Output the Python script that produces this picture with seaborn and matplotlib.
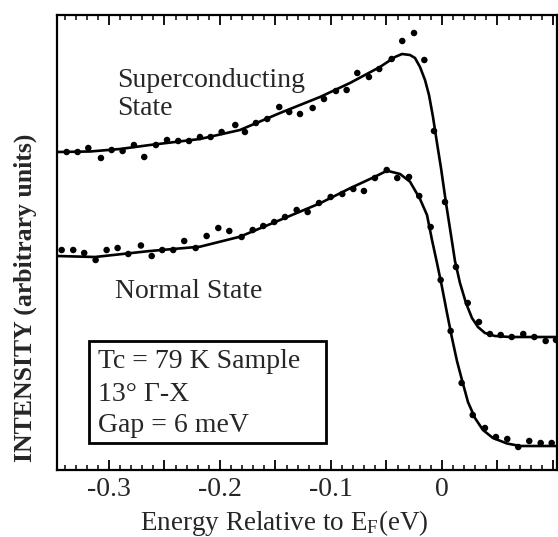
import numpy as np
import pandas as pd
import matplotlib
matplotlib.use("Agg")
import matplotlib.pyplot as plt
from matplotlib.ticker import MultipleLocator, FuncFormatter
from matplotlib.patches import Rectangle
import seaborn as sns

# ---------------- data ----------------
sc_energy = [-0.3381, -0.3282, -0.3186, -0.3072, -0.2976, -0.2877, -0.2775, -0.2682,
             -0.2577, -0.2477, -0.2376, -0.2279, -0.2180, -0.2084, -0.1985, -0.1862,
             -0.1775, -0.1676, -0.1574, -0.1466, -0.1376, -0.1279, -0.1165, -0.1063,
             -0.0955, -0.0859, -0.0763, -0.0658, -0.0565, -0.0453, -0.0358, -0.0252,
             -0.0159, -0.0072, 0.0027, 0.0126, 0.0232, 0.0333, 0.0432, 0.0529,
             0.0628, 0.0732, 0.0832, 0.0934, 0.1027]
sc_intensity = [3.18, 3.18, 3.22, 3.12, 3.20, 3.19, 3.25, 3.13, 3.25, 3.30,
                3.29, 3.29, 3.33, 3.33, 3.38, 3.45, 3.38, 3.47, 3.51, 3.63,
                3.58, 3.56, 3.62, 3.71, 3.79, 3.80, 3.97, 3.93, 4.01, 4.11,
                4.29, 4.37, 4.10, 3.39, 2.68, 2.03, 1.67, 1.48, 1.36, 1.35,
                1.33, 1.36, 1.33, 1.29, 1.30]

sc_fit_energy = [-0.3468, -0.3171, -0.2901, -0.2631, -0.2180, -0.1820, -0.1459, -0.1099,
                 -0.0829, -0.0559, -0.0423, -0.0360, -0.0288, -0.0243, -0.0198, -0.0153,
                 -0.0117, -0.0081, -0.0045, -0.0009, 0.0036, 0.0081, 0.0117, 0.0162,
                 0.0216, 0.0270, 0.0324, 0.0387, 0.0477, 0.0613, 0.1036]
sc_fit_intensity = [3.18, 3.185, 3.21, 3.25, 3.31, 3.40, 3.57, 3.73,
                    3.87, 4.03, 4.13, 4.16, 4.15, 4.12, 4.03, 3.90,
                    3.75, 3.53, 3.27, 3.02, 2.67, 2.35, 2.09, 1.87,
                    1.67, 1.52, 1.43, 1.37, 1.34, 1.33, 1.33]

ns_energy = [-0.3426, -0.3322, -0.3223, -0.3120, -0.3021, -0.2922, -0.2826, -0.2712,
             -0.2615, -0.2520, -0.2421, -0.2322, -0.2219, -0.2120, -0.2015, -0.1916,
             -0.1805, -0.1705, -0.1610, -0.1511, -0.1414, -0.1309, -0.1210, -0.1108,
             -0.1003, -0.0898, -0.0799, -0.0703, -0.0604, -0.0498, -0.0403, -0.0297,
             -0.0205, -0.0102, -0.0012, 0.0078, 0.0177, 0.0277, 0.0387, 0.0486,
             0.0588, 0.0687, 0.0786, 0.0889, 0.0988]
ns_intensity = [2.20, 2.20, 2.17, 2.10, 2.20, 2.22, 2.16, 2.245, 2.14, 2.20,
                2.20, 2.29, 2.22, 2.34, 2.42, 2.39, 2.33, 2.40, 2.44, 2.48,
                2.53, 2.60, 2.58, 2.67, 2.73, 2.76, 2.81, 2.79, 2.92, 3.00,
                2.92, 2.93, 2.74, 2.43, 1.90, 1.39, 0.87, 0.55, 0.42, 0.33,
                0.31, 0.23, 0.29, 0.27, 0.27]

ns_fit_energy = [-0.3468, -0.3126, -0.2631, -0.2180, -0.1820, -0.1459, -0.1099, -0.0829,
                 -0.0604, -0.0495, -0.0378, -0.0288, -0.0198, -0.0135, -0.0090, -0.0045,
                 0.0000, 0.0045, 0.0090, 0.0135, 0.0180, 0.0234, 0.0297, 0.0369,
                 0.0459, 0.0586, 0.0703, 0.1036]
ns_fit_intensity = [2.14, 2.13, 2.19, 2.233, 2.333, 2.50, 2.667, 2.817,
                    2.933, 2.993, 2.96, 2.883, 2.71, 2.55, 2.30, 2.07,
                    1.83, 1.57, 1.32, 1.09, 0.90, 0.68, 0.52, 0.40,
                    0.32, 0.265, 0.24, 0.24]

tick_labels = {-0.3: "-0.3", -0.2: "-0.2", -0.1: "-0.1", 0.0: "0"}

# ---------------- style ----------------
sns.set_style("ticks")
plt.rcParams["font.family"] = ["Liberation Serif", "DejaVu Serif"]
plt.rcParams["mathtext.fontset"] = "custom"
plt.rcParams["mathtext.rm"] = "Liberation Serif"
plt.rcParams["mathtext.it"] = "Liberation Serif:italic"

FS = 20

fig = plt.figure(figsize=(5.58, 5.37), dpi=100)
ax = fig.add_axes([57 / 558, 1 - 470 / 537, 500 / 558, 455 / 537])

pts_sc = pd.DataFrame({"E": sc_energy, "I": sc_intensity})
pts_ns = pd.DataFrame({"E": ns_energy, "I": ns_intensity})
fit_sc = pd.DataFrame({"E": sc_fit_energy, "I": sc_fit_intensity})
fit_ns = pd.DataFrame({"E": ns_fit_energy, "I": ns_fit_intensity})

for fit in (fit_sc, fit_ns):
    sns.lineplot(data=fit, x="E", y="I", ax=ax, color="black", lw=1.9,
                 sort=False, estimator=None, solid_joinstyle="round")
for pts in (pts_sc, pts_ns):
    sns.scatterplot(data=pts, x="E", y="I", ax=ax, color="black", s=22,
                    edgecolor="none", zorder=3)

ax.set_xlim(-0.3468, 0.1036)
ax.set_ylim(0, 4.55)

# axes / ticks
for side in ("left", "right", "top", "bottom"):
    ax.spines[side].set_visible(True)
    ax.spines[side].set_linewidth(1.6)
    ax.spines[side].set_color("black")
ax.set_yticks([])
ax.xaxis.set_major_locator(MultipleLocator(0.05))
ax.xaxis.set_minor_locator(MultipleLocator(0.01))


def fmt(v, pos):
    for k, lab in tick_labels.items():
        if abs(v - k) < 1e-6:
            return lab
    return ""


ax.xaxis.set_major_formatter(FuncFormatter(fmt))
ax.tick_params(axis="x", which="both", direction="in", top=True, bottom=True,
               color="black", labelsize=FS, pad=5)
ax.tick_params(axis="x", which="major", length=7.5, width=1.3)
ax.tick_params(axis="x", which="minor", length=3.8, width=1.1)

ax.set_xlabel(r"Energy Relative to E$_\mathrm{F}$(eV)", fontsize=19.5)
ax.xaxis.set_label_coords(0.454, -0.083)
ax.set_ylabel("INTENSITY (arbitrary units)", fontsize=18.5, fontweight="bold")
ax.yaxis.set_label_coords(-0.040, 0.378)

# annotations
ax.text(-0.2928, 3.83, "Superconducting", fontsize=FS, va="baseline", ha="left")
ax.text(-0.2928, 3.55, "State", fontsize=FS, va="baseline", ha="left")
ax.text(-0.2946, 1.72, "Normal State", fontsize=FS, va="baseline", ha="left")

ax.add_patch(Rectangle((-0.318, 0.27), 0.2135, 1.02, fill=False,
                       edgecolor="black", lw=2.0, zorder=4))
ax.text(-0.310, 1.02, "Tc = 79 K Sample", fontsize=FS, va="baseline", ha="left")
ax.text(-0.310, 0.69, "13° Γ-X", fontsize=FS, va="baseline", ha="left")
ax.text(-0.310, 0.38, "Gap = 6 meV", fontsize=FS, va="baseline", ha="left")

fig.savefig("out.png", dpi=100)
